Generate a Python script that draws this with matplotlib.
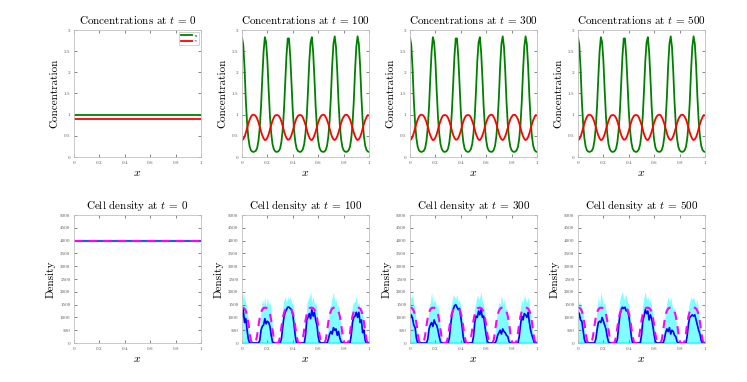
import numpy as np
import matplotlib
matplotlib.use("Agg")
import matplotlib.pyplot as plt

plt.rcParams['font.family'] = 'serif'
plt.rcParams['font.serif'] = ['cmr10', 'DejaVu Serif']
plt.rcParams['mathtext.fontset'] = 'cm'
plt.rcParams['axes.formatter.use_mathtext'] = True

# ---------------- data ----------------
times = [0, 100, 300, 500]
x = np.linspace(0, 1, 101)

u0 = 1.0
v0 = 0.9
dens0 = 4000

u_t = [2.82, 2.65, 2.10, 1.35, 0.80, 0.45, 0.25, 0.16, 0.13, 0.12,
       0.13, 0.15, 0.22, 0.39, 0.70, 1.19, 1.88, 2.49, 2.83, 2.71,
       2.27, 1.58, 0.97, 0.56, 0.31, 0.19, 0.14, 0.12, 0.125, 0.145,
       0.20, 0.35, 0.63, 1.08, 1.73, 2.38, 2.80, 2.80, 2.38, 1.73,
       1.08, 0.63, 0.35, 0.20, 0.145, 0.125, 0.12, 0.14, 0.19, 0.31,
       0.56, 0.97, 1.58, 2.27, 2.71, 2.83, 2.49, 1.88, 1.19, 0.70,
       0.39, 0.22, 0.15, 0.13, 0.12, 0.13, 0.17, 0.27, 0.49, 0.86,
       1.43, 2.16, 2.67, 2.85, 2.60, 2.03, 1.30, 0.77, 0.43, 0.24,
       0.16, 0.13, 0.12, 0.13, 0.16, 0.24, 0.43, 0.77, 1.30, 2.03,
       2.60, 2.85, 2.67, 2.16, 1.43, 0.86, 0.49, 0.27, 0.17, 0.13,
       0.12]

v_t = [0.40, 0.42, 0.48, 0.57, 0.68, 0.79, 0.88, 0.95, 0.99, 1.00,
       0.99, 0.96, 0.90, 0.82, 0.71, 0.60, 0.51, 0.44, 0.40, 0.41,
       0.46, 0.54, 0.65, 0.76, 0.85, 0.93, 0.98, 0.99, 0.99, 0.97,
       0.92, 0.84, 0.74, 0.62, 0.52, 0.45, 0.41, 0.41, 0.45, 0.52,
       0.62, 0.74, 0.84, 0.92, 0.97, 0.99, 0.99, 0.98, 0.93, 0.85,
       0.76, 0.65, 0.54, 0.46, 0.41, 0.40, 0.44, 0.51, 0.60, 0.71,
       0.82, 0.90, 0.96, 0.99, 1.00, 0.99, 0.94, 0.87, 0.78, 0.67,
       0.56, 0.47, 0.42, 0.40, 0.43, 0.49, 0.58, 0.69, 0.80, 0.89,
       0.95, 0.99, 1.00, 0.99, 0.95, 0.89, 0.80, 0.69, 0.58, 0.49,
       0.43, 0.40, 0.42, 0.47, 0.56, 0.67, 0.78, 0.87, 0.94, 0.99,
       0.98]

cont_dens = [1380, 1375, 1340, 1250, 1080, 800, 420, 100, 0, 0,
             0, 70, 324, 686, 996, 1199, 1313, 1365, 1378, 1377,
             1350, 1277, 1131, 884, 534, 196, 30, 0, 0, 50,
             260, 610, 940, 1165, 1295, 1358, 1378, 1378, 1358, 1295,
             1165, 940, 610, 260, 50, 0, 0, 30, 196, 534,
             884, 1131, 1277, 1350, 1377, 1378, 1365, 1313, 1199, 996,
             686, 324, 70, 0, 0, 10, 132, 458, 828, 1097,
             1259, 1343, 1376, 1380, 1372, 1331, 1233, 1052, 762, 388,
             90, 0, 0, 0, 90, 388, 762, 1052, 1233, 1331,
             1372, 1380, 1376, 1343, 1259, 1097, 828, 458, 132, 10,
             0]

mean_100 = [1050, 1300, 800, 950, 500, 150, 0, 0, 0, 0,
            0, 0, 0, 0, 100, 500, 650, 700, 950, 750,
            850, 800, 650, 300, 50, 0, 0, 0, 0, 0,
            0, 150, 600, 1000, 1200, 1300, 1400, 1400, 1350, 1300,
            1100, 700, 250, 0, 0, 0, 0, 0, 0, 0,
            300, 900, 1000, 1150, 950, 1300, 1050, 1200, 900, 700,
            250, 50, 0, 0, 0, 0, 0, 0, 150, 350,
            450, 350, 600, 500, 550, 300, 450, 200, 50, 0,
            0, 0, 0, 0, 0, 0, 300, 800, 1000, 1050,
            1200, 1000, 1200, 800, 900, 400, 500, 100, 0, 0,
            0]
upper_100 = [1500, 2000, 1700, 1600, 1300, 800, 200, 0, 0, 0,
             0, 0, 0, 100, 700, 1300, 1700, 1500, 1800, 1400,
             1800, 1500, 1600, 1200, 600, 100, 0, 0, 0, 0,
             100, 600, 1300, 1700, 1800, 1600, 1800, 1700, 1800, 1600,
             1500, 1300, 700, 200, 0, 0, 0, 0, 0, 100,
             800, 1500, 1700, 1800, 2000, 1600, 1800, 1500, 1600, 1300,
             800, 300, 0, 0, 0, 0, 0, 150, 800, 1400,
             1500, 1800, 2000, 1600, 1700, 1400, 1500, 1100, 500, 100,
             0, 0, 0, 0, 0, 200, 900, 1500, 1600, 1600,
             1800, 1500, 1600, 1300, 1500, 1000, 900, 400, 100, 0,
             0]

mean_300 = [1000, 1100, 950, 700, 600, 200, 0, 0, 0, 0,
            0, 0, 0, 0, 150, 550, 700, 800, 650, 900,
            750, 700, 500, 250, 50, 0, 0, 0, 0, 0,
            0, 200, 700, 1100, 1300, 1450, 1500, 1400, 1300, 1350,
            1000, 650, 200, 0, 0, 0, 0, 0, 0, 0,
            250, 800, 1050, 1000, 1250, 1100, 1300, 1000, 1050, 650,
            300, 50, 0, 0, 0, 0, 0, 0, 100, 300,
            400, 500, 350, 550, 450, 400, 300, 250, 50, 0,
            0, 0, 0, 0, 0, 0, 250, 700, 1050, 900,
            1150, 1100, 1000, 1200, 800, 500, 300, 150, 0, 0,
            0]
upper_300 = [1700, 1800, 1900, 1500, 1400, 700, 200, 0, 0, 0,
             0, 0, 0, 150, 800, 1400, 1600, 2000, 1500, 1700,
             1600, 1400, 1500, 1000, 500, 100, 0, 0, 0, 0,
             150, 700, 1400, 1600, 1900, 1800, 1700, 1900, 1600, 1700,
             1400, 1100, 600, 150, 0, 0, 0, 0, 0, 100,
             900, 1400, 1600, 1900, 1700, 1800, 2000, 1600, 1500, 1200,
             700, 200, 0, 0, 0, 0, 0, 200, 900, 1300,
             1600, 1500, 1900, 1500, 1700, 1300, 1400, 900, 400, 100,
             0, 0, 0, 0, 0, 150, 800, 1400, 1700, 1500,
             1900, 1700, 1600, 1800, 1400, 1100, 700, 300, 50, 0,
             0]

mean_500 = [1200, 1150, 900, 850, 500, 150, 0, 0, 0, 0,
            0, 0, 0, 0, 150, 500, 800, 850, 800, 1000,
            850, 700, 550, 250, 50, 0, 0, 0, 0, 0,
            0, 150, 650, 1100, 1300, 1400, 1350, 1400, 1250, 1300,
            1050, 700, 250, 0, 0, 0, 0, 0, 0, 0,
            300, 850, 1050, 1300, 1150, 1250, 900, 1100, 950, 650,
            300, 50, 0, 0, 0, 0, 0, 0, 150, 400,
            550, 450, 600, 350, 500, 450, 300, 250, 50, 0,
            0, 0, 0, 0, 0, 0, 300, 750, 1000, 1050,
            1100, 1050, 1100, 900, 700, 500, 350, 100, 0, 0,
            0]
upper_500 = [1800, 1500, 1600, 1400, 1200, 700, 150, 0, 0, 0,
             0, 0, 0, 100, 700, 1400, 1800, 1500, 2000, 1700,
             1500, 1600, 1300, 1000, 500, 100, 0, 0, 0, 0,
             100, 700, 1300, 1700, 1900, 2000, 1700, 1800, 1900, 1600,
             1500, 1200, 600, 150, 0, 0, 0, 0, 0, 150,
             800, 1500, 1800, 2000, 1700, 1800, 1600, 1700, 1400, 1200,
             700, 200, 0, 0, 0, 0, 0, 150, 800, 1300,
             1600, 1800, 1600, 1800, 1500, 1300, 1400, 1000, 400, 100,
             0, 0, 0, 0, 0, 150, 900, 1400, 1600, 1800,
             1700, 1800, 1600, 1500, 1700, 1200, 800, 300, 100, 0,
             0]

x_ticks = [0, 0.2, 0.4, 0.6, 0.8, 1]
x_ticklabels = ['0', '0.2', '0.4', '0.6', '0.8', '1']
conc_ticks = [0, 0.5, 1, 1.5, 2, 2.5, 3]
conc_ticklabels = ['0', '0.5', '1', '1.5', '2', '2.5', '3']
dens_ticks = [0, 500, 1000, 1500, 2000, 2500, 3000, 3500, 4000, 4500, 5000]
dens_ticklabels = [str(t) for t in dens_ticks]

# ---------------- figure ----------------
W, H = 747, 382
fig = plt.figure(figsize=(W / 100, H / 100), dpi=100)

lefts = [74, 242, 410, 578]
aw = 127
FS = 8


def style(ax, yt, ytl, ylim):
    ax.set_xlim(0, 1)
    ax.set_ylim(*ylim)
    ax.set_xticks(x_ticks)
    ax.set_xticklabels(x_ticklabels)
    ax.set_yticks(yt)
    ax.set_yticklabels(ytl)
    ax.tick_params(direction='in', length=2, width=0.5, labelsize=3.6,
                   top=True, right=True, colors='#555555', pad=2.5)
    for s in ax.spines.values():
        s.set_color('#c0c0c0')
        s.set_linewidth(0.6)
    ax.set_xlabel('$x$', fontsize=FS + 0.5, labelpad=3)


means = [None, mean_100, mean_300, mean_500]
uppers = [None, upper_100, upper_300, upper_500]

for k, t in enumerate(times):
    # top row: concentrations
    ax = fig.add_axes([lefts[k] / W, 1 - 157 / H, aw / W, 127 / H])
    if k == 0:
        ax.plot([0, 1], [u0, u0], color='#008000', lw=1.3, label='u')
        ax.plot([0, 1], [v0, v0], color='#ff0000', lw=1.3, label='v')
        leg = ax.legend(loc='upper right', fontsize=3, handlelength=2.5,
                        borderpad=0.4, labelspacing=0.3, framealpha=1,
                        edgecolor='#c0c0c0', fancybox=False)
        leg.get_frame().set_linewidth(0.5)
    else:
        ax.plot(x, u_t, color='#008000', lw=1.3)
        ax.plot(x, v_t, color='#ff0000', lw=1.3)
    style(ax, conc_ticks, conc_ticklabels, (0, 3))
    ax.set_title('Concentrations at $t$ = %d' % t, fontsize=FS, pad=4)
    ax.set_ylabel('Concentration', fontsize=FS, labelpad=3)

    # bottom row: cell density
    ax = fig.add_axes([lefts[k] / W, 1 - 343 / H, aw / W, 128 / H])
    if k == 0:
        ax.plot([0, 1], [dens0, dens0], color='#00ffff', lw=1.5)
        ax.plot([0, 1], [dens0, dens0], color='#3050ff', lw=1.5)
        ax.plot([0, 1], [dens0, dens0], color='#ff00ff', lw=1.5,
                dashes=(4, 3))
    else:
        ax.fill_between(x, 0, uppers[k], color='#00ffff', alpha=0.5,
                        lw=0)
        ax.plot(x, np.zeros_like(x), color='#00ffff', lw=1.5, alpha=0.6)
        ax.plot(x, means[k], color='#0000ff', lw=1.2)
        ax.plot(x, cont_dens, color='#ff00ff', lw=1.5, dashes=(4, 3))
    style(ax, dens_ticks, dens_ticklabels, (0, 5000))
    ax.set_title('Cell density at $t$ = %d' % t, fontsize=FS, pad=4)
    ax.set_ylabel('Density', fontsize=FS, labelpad=3)

fig.savefig('out.png', dpi=100)
